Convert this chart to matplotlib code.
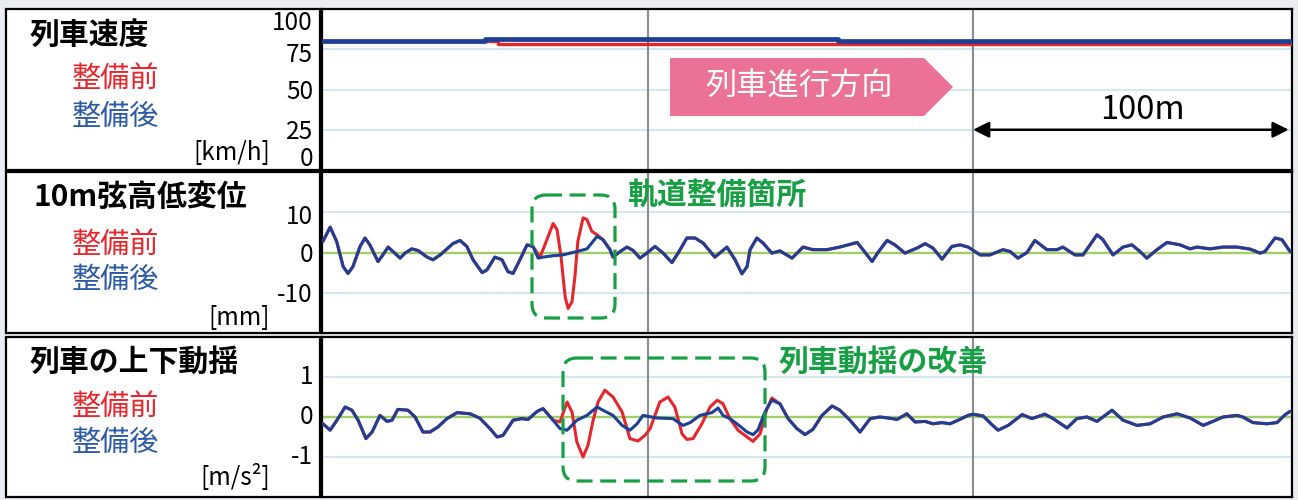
import matplotlib
matplotlib.use("Agg")
import matplotlib.pyplot as plt
from matplotlib.patches import FancyBboxPatch, Polygon, Rectangle
import numpy as np

plt.rcParams["font.family"] = ["Noto Sans CJK JP", "DejaVu Sans"]

# ---------------------------------------------------------------- data
# Train speed [km/h] along the track [m] (step profiles)
speed_after_dist = [0, 50, 158.5, 298]
speed_after_kmh = [80, 81.5, 80, 80]
speed_before_dist = [0, 54, 298]
speed_before_kmh = [80, 78, 78]

# 10 m chord longitudinal level [mm], after maintenance
level_dist = [
    0.3, 2.5, 4.5, 6.5, 8.0, 9.5, 11.7, 13.2, 14.7, 17.2,
    18.7, 20.3, 21.8, 24.0, 25.5, 27.6, 29.5, 32.3, 34.1, 36.3,
    38.4, 40.2, 42.4, 44.5, 46.4, 49.2, 50.7, 53.1, 55.3, 57.1,
    58.7, 60.8, 63.0, 64.8, 66.4, 67.9, 71.0, 74.0, 78.3, 81.4,
    84.5, 86.3, 88.5, 89.4, 91.6, 93.7, 95.6, 97.7, 99.8, 102.3,
    104.8, 107.5, 109.4, 112.1, 114.6, 117.1, 120.7, 124.4, 126.9, 129.0,
    130.6, 131.5, 133.6, 135.5, 138.2, 140.7, 144.4, 147.8, 150.8, 155.1,
    159.1, 164.4, 166.2, 169.0, 170.8, 173.6, 176.0, 179.1, 182.8, 185.3,
    187.7, 190.5, 193.5, 196.0, 198.5, 202.2, 205.2, 209.2, 211.4, 213.8,
    216.6, 219.0, 222.7, 225.8, 227.6, 231.3, 233.8, 238.1, 239.9, 243.0,
    246.1, 248.8, 251.3, 253.4, 256.5, 259.6, 263.6, 266.7, 268.8, 272.8,
    276.8, 281.1, 285.1, 288.2, 289.7, 292.8, 294.9, 297.4,
]
level_after = [
    2.75, 6.3, 2.75, -3.5, -5.2, -3.5, 1.5, 3.6, 1.9, -2.25,
    -0.6, 1.35, 0.25, -1.4, -0.15, 0.9, 0.5, -1.15, -1.8, -0.6,
    0.9, 2.2, 3.0, 1.5, -1.8, -5.0, -4.3, -1.15, -1.8, -4.75,
    -5.2, -1.8, 1.9, 1.5, -1.4, -1.15, -0.8, -0.6, 0.25, 0.9,
    4.0, 3.2, 0.7, -1.15, 0.25, 1.35, 0.5, -1.4, -0.15, 1.5,
    -0.15, -2.5, -0.15, 3.6, 3.6, 2.35, -1.15, 1.35, -1.8, -5.3,
    -3.5, 0.7, 3.6, 2.35, -0.15, 0.4, -1.4, 1.35, 0.7, 0.7,
    1.35, 2.5, 0.7, -2.25, 0.0, 3.0, 1.9, -0.15, 1.1, 2.2,
    1.1, -1.65, 1.5, 1.9, 1.35, -0.6, -0.6, 0.7, 0.25, -1.4,
    0.0, 3.0, 0.7, 0.7, 1.35, -0.6, -0.6, 4.4, 3.2, -0.6,
    1.35, 1.9, 0.25, -1.4, 0.7, 2.5, 1.9, 0.9, 1.35, 0.9,
    1.35, 1.35, 0.85, -0.15, 0.25, 3.6, 3.2, 0.25,
]
# Section before maintenance where the level differs
level_before_dist = [64.8, 67.0, 69.1, 71.0, 72.2, 73.4, 74.7, 75.6,
                     76.8, 77.7, 78.6, 80.2, 81.4, 82.9, 84.5, 86.3]
level_before = [1.5, -1.15, 3.2, 7.2, 5.7, -0.8, -11.0, -13.9,
                -12.25, -6.0, 2.75, 8.6, 8.2, 5.25, 4.4, 3.2]

# Vertical car-body acceleration [m/s^2], after maintenance
accel_dist = [
    0.3, 2.5, 4.6, 7.1, 9.2, 11.1, 13.5, 15.4, 17.8, 20.0,
    21.5, 23.3, 26.4, 28.6, 31.0, 33.2, 35.6, 38.4, 41.5, 45.5,
    48.5, 51.6, 53.8, 55.6, 58.7, 61.4, 63.3, 66.1, 67.9, 71.0,
    73.1, 75.3, 78.3, 81.4, 84.5, 86.3, 89.4, 92.2, 94.6, 96.8,
    98.6, 102.9, 107.8, 110.9, 113.1, 116.1, 119.8, 121.7, 123.2, 125.3,
    127.8, 130.6, 132.4, 133.9, 136.1, 138.2, 140.7, 143.2, 145.9, 148.4,
    150.8, 153.6, 156.7, 159.1, 162.2, 165.3, 168.4, 171.4, 173.9, 176.7,
    179.7, 182.2, 185.3, 187.7, 190.5, 192.9, 195.4, 198.5, 200.0, 203.1,
    205.8, 207.7, 210.8, 215.1, 218.1, 222.1, 224.6, 228.9, 231.9, 235.0,
    238.1, 242.7, 246.1, 250.4, 254.4, 258.4, 262.7, 266.7, 270.7, 273.7,
    276.8, 281.1, 282.9, 286.0, 290.3, 293.4, 295.9, 297.4,
]
accel_after = [
    -0.17, -0.33, -0.08, 0.25, 0.17, -0.08, -0.54, -0.375, 0.04, -0.11,
    -0.08, 0.19, 0.17, 0.0, -0.375, -0.375, -0.25, -0.04, 0.11, 0.08,
    -0.03, -0.29, -0.5, -0.46, -0.08, -0.04, -0.06, 0.14, 0.21, -0.08,
    -0.29, -0.33, -0.08, 0.04, 0.25, 0.17, 0.04, -0.21, -0.33, -0.17,
    0.04, -0.025, -0.04, -0.21, -0.14, 0.04, 0.11, 0.225, 0.04, -0.04,
    -0.19, -0.375, -0.44, -0.33, 0.125, 0.42, 0.33, -0.04, -0.29, -0.44,
    -0.31, 0.04, 0.275, 0.17, -0.08, -0.375, -0.04, 0.0, -0.025, -0.06,
    0.08, -0.125, -0.11, -0.17, -0.14, -0.17, -0.08, 0.04, 0.07, 0.025,
    -0.19, -0.33, -0.21, 0.06, -0.04, 0.07, -0.04, -0.275, -0.04, 0.0,
    -0.11, 0.17, -0.08, -0.21, -0.17, 0.0, 0.08, -0.025, -0.21, -0.11,
    0.0, 0.04, 0.0, -0.14, -0.17, -0.14, 0.06, 0.14,
]
accel_before_dist = [
    71.0, 73.1, 75.3, 76.8, 78.3, 80.2, 81.7, 83.3, 84.8, 86.9,
    89.4, 92.2, 94.6, 97.1, 99.2, 100.8, 103.8, 106.3, 108.4, 110.6,
    112.1, 114.0, 116.7, 119.2, 121.4, 123.2, 125.3, 127.8, 130.6, 132.4,
    134.6, 136.7, 138.2,
]
accel_before = [
    -0.08, -0.125, 0.375, 0.125, -0.625, -1.0, -0.71, -0.08, 0.375, 0.67,
    0.5, 0.125, -0.54, -0.6, -0.46, -0.29, 0.375, 0.5, 0.25, -0.42,
    -0.56, -0.54, -0.17, 0.25, 0.42, 0.33, -0.04, -0.33, -0.5, -0.61,
    -0.42, 0.21, 0.475,
]

speed_tick_labels = ["100", "75", "50", "25", "0"]
level_tick_labels = ["10", "0", "-10"]
accel_tick_labels = ["1", "0", "-1"]

panel_titles = ["列車速度", "10m弦高低変位", "列車の上下動揺"]
units = ["[km/h]", "[mm]", "[m/s²]"]
legend_before = "整備前"
legend_after = "整備後"
direction_label = "列車進行方向"
scale_label = "100m"
note_track = "軌道整備箇所"
note_ride = "列車動揺の改善"


def splice(base_x, base_y, seg_x, seg_y):
    """Replace the part of a profile covered by a segment."""
    bx = np.asarray(base_x)
    by = np.asarray(base_y)
    lo, hi = seg_x[0], seg_x[-1]
    left = bx < lo
    right = bx > hi
    x = np.concatenate([bx[left], seg_x, bx[right]])
    y = np.concatenate([by[left], seg_y, by[right]])
    return x, y


# ---------------------------------------------------------------- style
W, H = 1298, 500
BG = "#e9ecf0"
RED = "#e5262d"
BLUE = "#1e3f96"
RED_TXT = "#e8262c"
BLUE_TXT = "#2b5aa7"
GRID = "#cfe8ee"
ZERO = "#a0cf68"
VLINE = "#8c8c8c"
GREEN = "#17a043"
PINK = "#ec7196"

fig = plt.figure(figsize=(W / 100, H / 100), dpi=100, facecolor=BG)


def rect(x0, y0, x1, y1):
    return [x0 / W, 1 - y1 / H, (x1 - x0) / W, (y1 - y0) / H]


rows = [(9, 170), (172, 333), (337, 497)]
PX0, PX1 = 322, 1292
XMAX = 298

axes = []
for (y0, y1) in rows:
    ax = fig.add_axes(rect(PX0, y0, PX1, y1))
    ax.set_xlim(0, XMAX)
    ax.set_xticks([])
    ax.set_yticks([])
    for s in ax.spines.values():
        s.set_color("black")
        s.set_linewidth(1.6)
    for xv in (100, 200):
        ax.axvline(xv, color=VLINE, lw=1.5, zorder=2)
    axes.append(ax)

ax_s, ax_l, ax_a = axes
trace = dict(lw=2.2, solid_joinstyle="round", solid_capstyle="round")

# speed
ax_s.set_ylim(0, 100)
for g in (25, 50, 75, 100):
    ax_s.axhline(g, color=GRID, lw=1.4, zorder=1)
ax_s.step(speed_before_dist, speed_before_kmh, where="post", color=RED,
          lw=2.4, zorder=3)
ax_s.step(speed_after_dist, speed_after_kmh, where="post", color=BLUE,
          lw=3.4, zorder=4)
ax_s.annotate("", xy=(297, 25), xytext=(200, 25),
              arrowprops=dict(arrowstyle="<|-|>", color="black", lw=1.8,
                              mutation_scale=24, shrinkA=0, shrinkB=0),
              zorder=5)
ax_s.text(252, 37.5, scale_label, ha="center", va="center", fontsize=23.5,
          color="black", zorder=5)

# longitudinal level
ax_l.set_ylim(-20, 20)
for g in (-10, 10):
    ax_l.axhline(g, color=GRID, lw=1.4, zorder=1)
ax_l.axhline(0, color=ZERO, lw=1.7, zorder=1)
lx, ly = splice(level_dist, level_after, level_before_dist, level_before)
ax_l.plot(lx, ly, color=RED, zorder=3, **trace)
ax_l.plot(level_dist, level_after, color=BLUE, zorder=4, **trace)

# acceleration
ax_a.set_ylim(-2, 2)
for g in (-1, 1):
    ax_a.axhline(g, color=GRID, lw=1.4, zorder=1)
ax_a.axhline(0, color=ZERO, lw=1.7, zorder=1)
axx, axy = splice(accel_dist, accel_after, accel_before_dist, accel_before)
ax_a.plot(axx, axy, color=RED, zorder=3, **trace)
ax_a.plot(accel_dist, accel_after, color=BLUE, zorder=4, **trace)

# ------------------------------------------------------- overlay (pixels)
ov = fig.add_axes([0, 0, 1, 1], zorder=10)
ov.set_xlim(0, W)
ov.set_ylim(H, 0)
ov.axis("off")
ov.patch.set_alpha(0)

# label boxes on the left
for (y0, y1) in rows:
    ov.add_patch(Rectangle((6, y0), 314, y1 - y0, facecolor="white",
                           edgecolor="black", lw=1.6))

title_pos = [(30, 35), (33, 197), (30, 362)]
before_y = [79, 245, 407]
after_y = [117, 280, 443]
unit_y = [153, 318, 478]
tick_sets = [speed_tick_labels, level_tick_labels, accel_tick_labels]
tick_y = [[23, 55, 92, 132, 159], [217, 255, 295], [377, 417, 457]]

for i in range(3):
    ov.text(*title_pos[i], panel_titles[i], ha="left", va="center",
            fontsize=21.5, fontweight="bold", color="black")
    ov.text(72, before_y[i], legend_before, ha="left", va="center",
            fontsize=21, color=RED_TXT)
    ov.text(72, after_y[i], legend_after, ha="left", va="center",
            fontsize=21, color=BLUE_TXT)
    ov.text(270, unit_y[i], units[i], ha="right", va="center",
            fontsize=17.5, color="black")
    for lab, yy in zip(tick_sets[i], tick_y[i]):
        ov.text(313, yy, lab, ha="right", va="center", fontsize=17.5,
                color="black")

# travel direction arrow
ov.add_patch(Polygon([(670, 58), (924, 58), (953, 87), (924, 116), (670, 116)],
                     closed=True, facecolor=PINK, edgecolor="none"))
ov.text(799, 87, direction_label, ha="center", va="center", fontsize=22.5,
        color="white")

# highlighted sections
dash = (0, (5, 2.4))
ov.add_patch(FancyBboxPatch((532, 195), 83, 123,
                            boxstyle="round,pad=0,rounding_size=14",
                            fill=False, edgecolor=GREEN, lw=2.3,
                            linestyle=dash))
ov.add_patch(FancyBboxPatch((563, 358), 202, 123,
                            boxstyle="round,pad=0,rounding_size=14",
                            fill=False, edgecolor=GREEN, lw=2.3,
                            linestyle=dash))
ov.text(627, 195, note_track, ha="left", va="center", fontsize=21.5,
        fontweight="bold", color=GREEN)
ov.text(779, 362, note_ride, ha="left", va="center", fontsize=21.5,
        fontweight="bold", color=GREEN)

fig.savefig("out.png", dpi=100, facecolor=BG)
